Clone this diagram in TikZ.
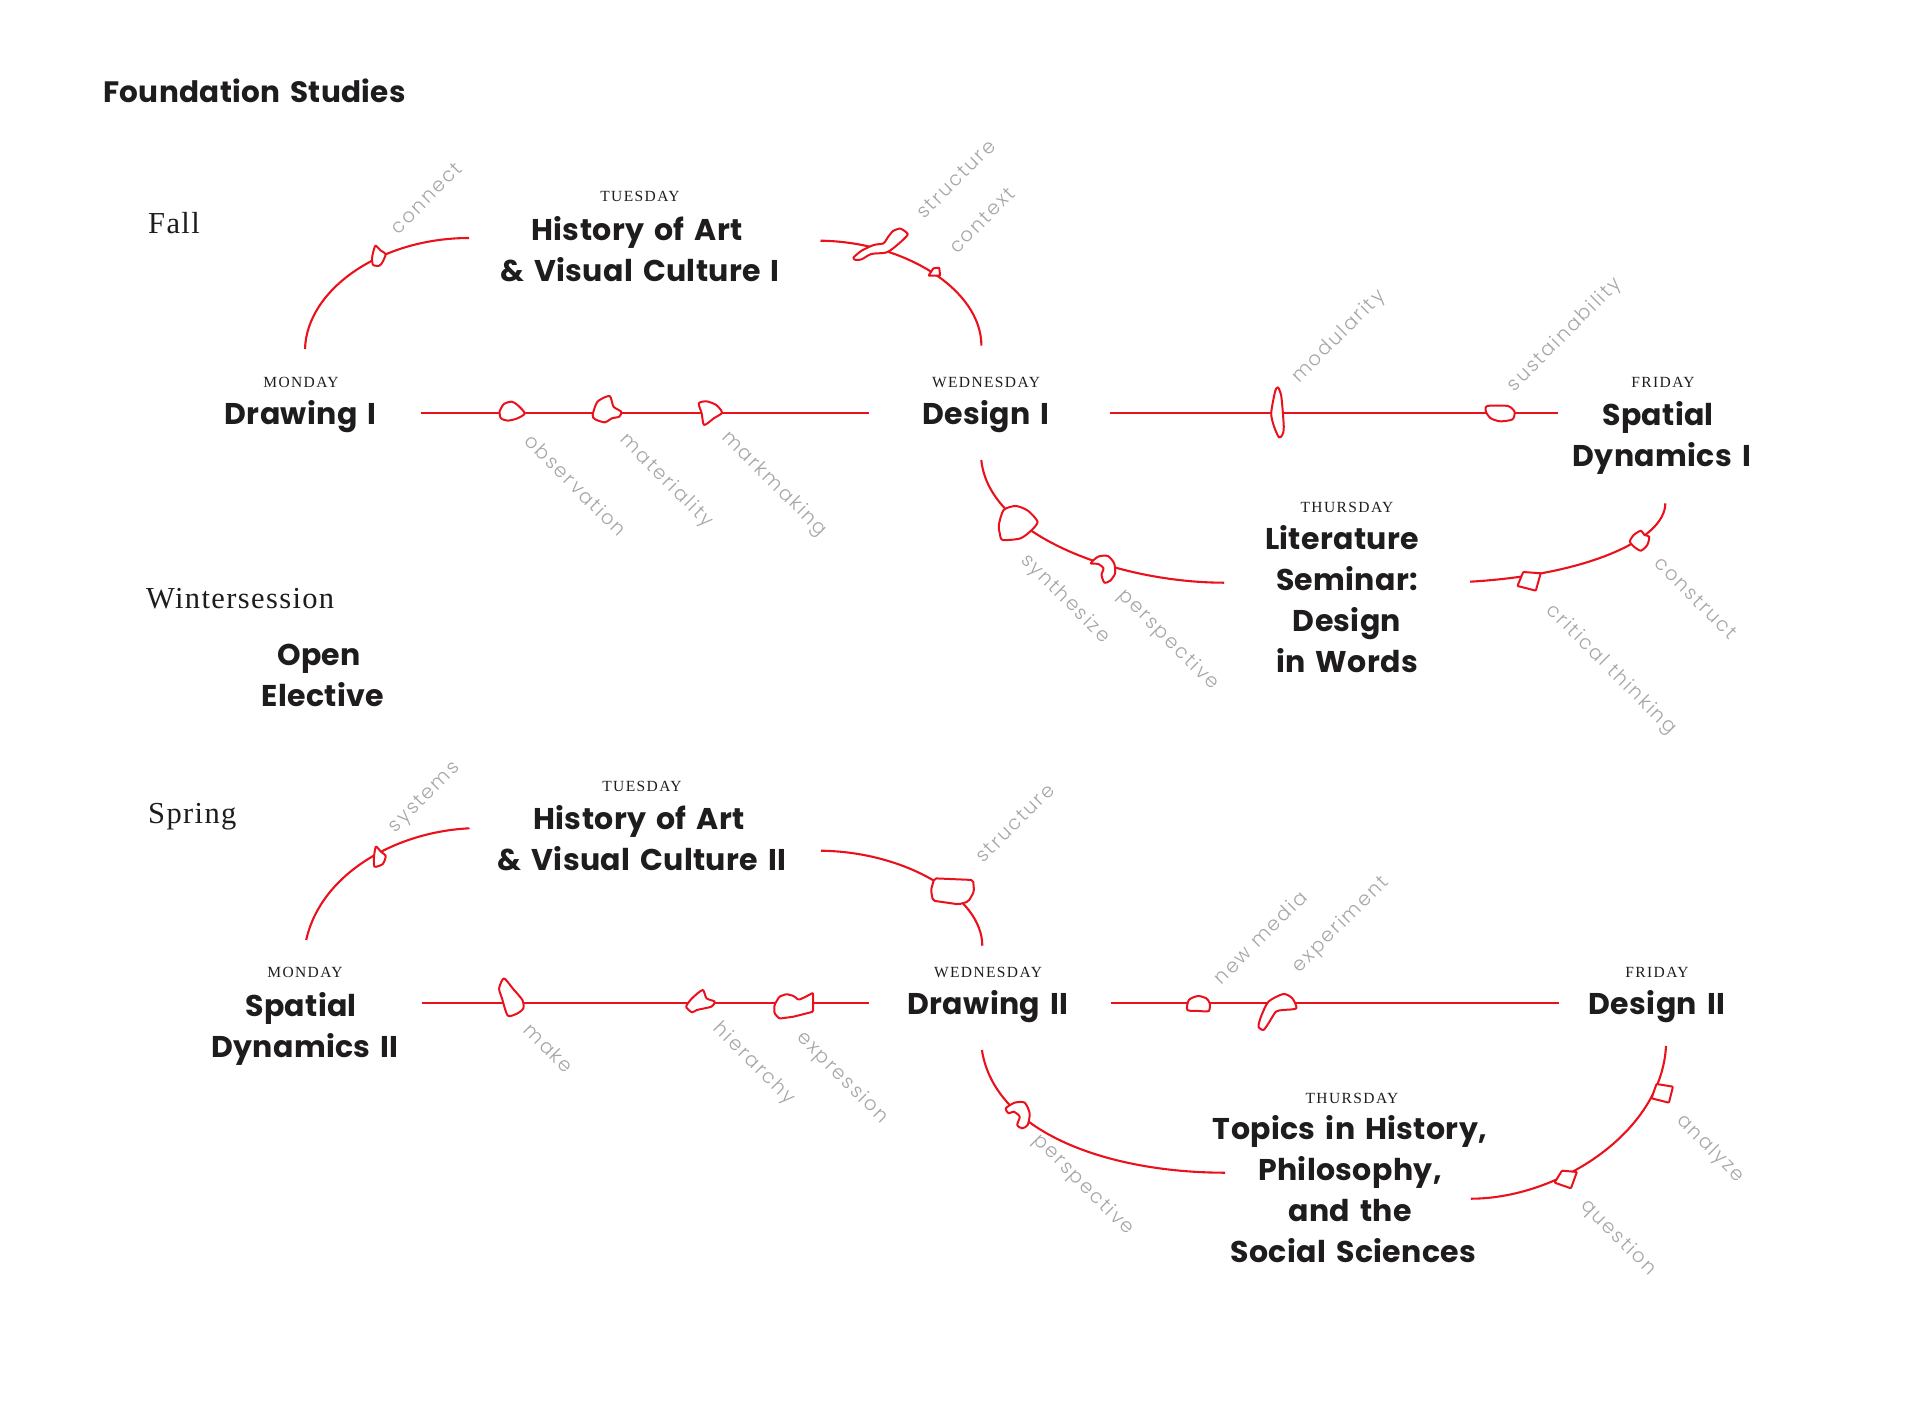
\documentclass[tikz,border=0pt]{standalone}
\usepackage{fontspec}
\setmainfont{Liberation Serif}
\newfontfamily\hd{Poppins}[LetterSpace=1.2,WordSpace=1.5]
\newfontfamily\tg{Poppins Light}[LetterSpace=10]
\newfontfamily\dy{Liberation Serif}[LetterSpace=9]
\newfontfamily\sn{Liberation Serif}[LetterSpace=4.5]
\definecolor{lk}{HTML}{EA111D}
\definecolor{ink}{HTML}{1E1C1D}
\definecolor{tgc}{HTML}{A6A6A6}
\tikzset{
 course/.style={inner sep=0pt,align=center,text=ink,font=\hd\bfseries\fontsize{30}{41}\selectfont},
 day/.style={inner sep=0pt,text=ink,font=\dy\fontsize{15.5}{16}\selectfont},
 season/.style={inner sep=0pt,anchor=base west,text=ink,font=\sn\fontsize{30.5}{34}\selectfont},
 tag/.style={inner sep=0pt,text=tgc,font=\tg\fontsize{19.5}{22}\selectfont},
 tagup/.style={tag,rotate=45},
 tagdn/.style={tag,rotate=-45},
 link/.style={draw=lk,line width=2.1pt,line cap=butt},
 rail/.style={draw=lk,line width=2.6pt,line cap=butt},
 blob/.style={draw=lk,fill=white,line width=2pt,line join=round},
 zoomA/.style={shift={(280,130)},xscale=0.4847,yscale=0.3333},
 zoomB/.style={shift={(960,270)},xscale=0.4847,yscale=0.3333},
 zoomC/.style={shift={(280,750)},xscale=0.4847,yscale=0.3333},
 zoomD/.style={shift={(960,860)},xscale=0.4975,yscale=0.3333},
}
\newcommand{\shp}[1]{\draw[blob] plot[smooth cycle,tension=0.42] coordinates {#1};}
\begin{document}
\begin{tikzpicture}[x=1pt,y=-1pt]
\useasboundingbox (0,0) rectangle (1920,1401);
% headings
\node[anchor=west,inner sep=0pt,text=ink,font=\hd\bfseries\fontsize{29.5}{32}\selectfont] (title) at (103,90.5) {Foundation Studies};
\node[season] (fall) at (148,233) {Fall};
\node[season] (winter) at (146,608) {Wintersession};
\node[season] (spring) at (148,823) {Spring};
\node[course] (open) at (323,675.5) {Open\hspace*{8pt}\\Elective};
% fall courses
\node[day] (dTue1) at (640,196) {TUESDAY};
\node[course] (hist1) at (640,249) {History of Art\hspace*{6pt}\\\& Visual Culture I};
\node[day] (dMon1) at (301,382) {MONDAY};
\node[course] (draw1) at (300.6,417) {Drawing I};
\node[day] (dWed1) at (986,382) {WEDNESDAY};
\node[course] (desn1) at (986,417) {Design I};
\node[day] (dFri1) at (1663,382) {FRIDAY};
\node[course] (spat1) at (1662,438) {Spatial\hspace*{8pt}\\Dynamics I};
\node[day] (dThu1) at (1347,507) {THURSDAY};
\node[course] (lit) at (1347,599.5) {Literature\hspace*{10pt}\\Seminar:\\Design\hspace*{10pt}\\in Words};
% spring courses
\node[day] (dTue2) at (642,786) {TUESDAY};
\node[course] (hist2) at (642,838.5) {History of Art\hspace*{6pt}\\\& Visual Culture II};
\node[day] (dMon2) at (305,972) {MONDAY};
\node[course] (spat2) at (305,1028.5) {Spatial\hspace*{8pt}\\Dynamics II};
\node[day] (dWed2) at (988,972) {WEDNESDAY};
\node[course] (draw2) at (988,1007) {Drawing II};
\node[day] (dFri2) at (1657,972) {FRIDAY};
\node[course] (desn2) at (1657,1007) {Design II};
\node[day] (dThu2) at (1352,1098) {THURSDAY};
\node[course] (topics) at (1350,1189.5) {Topics in History,\\Philosophy,\\and the\\\hspace*{7pt}Social Sciences};
% connector ends
\coordinate (a1) at (305,349); \coordinate (a2) at (469,238);
\coordinate (b1) at (820.5,240.7); \coordinate (b2) at (981.4,345.7);
\coordinate (c1) at (420.6,413); \coordinate (c2) at (869,413);
\coordinate (d1) at (1110,413); \coordinate (d2) at (1558,413);
\coordinate (e1) at (981.3,460); \coordinate (e2) at (1224.2,582.7);
\coordinate (f1) at (1470,581.7); \coordinate (f2) at (1665.3,503.3);
\coordinate (g1) at (306.2,940); \coordinate (g2) at (469.5,828.3);
\coordinate (h1) at (821,850.7); \coordinate (h2) at (982.3,945.7);
\coordinate (i1) at (421.5,1003); \coordinate (i2) at (869.4,1003);
\coordinate (j1) at (1110.7,1003); \coordinate (j2) at (1559,1003);
\coordinate (k1) at (981.9,1050); \coordinate (k2) at (1225.2,1172.7);
\coordinate (l1) at (1666,1046); \coordinate (l2) at (1470.9,1198.7);
% connectors
\draw[link] (a1) .. controls (306.7,290) and (379.9,238) .. (a2);
\draw[link] (b1) .. controls (905,241.7) and (981.4,290) .. (b2);
\draw[rail] (c1) -- (c2);
\draw[rail] (d1) -- (d2);
\draw[link] (e1) .. controls (989,536.7) and (1120,582.7) .. (e2);
\draw[link] (f1) .. controls (1585.3,575) and (1665.3,540) .. (f2);
\draw[link] (g1) .. controls (321,873.3) and (396.3,831.7) .. (g2);
\draw[link] (h1) .. controls (905,851.7) and (982.3,896.7) .. (h2);
\draw[rail] (i1) -- (i2);
\draw[rail] (j1) -- (j2);
\draw[link] (k1) .. controls (994.8,1133.3) and (1109.3,1172.7) .. (k2);
\draw[link] (l1) .. controls (1661.5,1133.3) and (1557,1198.7) .. (l2);
% marks
\begin{scope}[zoomA]
\shp{(197,347)(208,362)(218,372)(212,395)(205,407)(192,405)(190,385)(192,368)}
\shp{(1183,383)(1200,362)(1225,345)(1245,340)(1255,320)(1265,303)(1280,296)(1295,312)(1285,330)(1265,355)(1250,368)(1220,372)(1200,388)(1188,390)}
\draw[blob,rounded corners=0.6pt] (1338,437) -- (1348,415) -- (1360,413) -- (1362,437) -- cycle;
\shp{(453,845)(462,822)(478,815)(490,825)(505,850)(490,865)(470,872)(456,865)}
\shp{(645,855)(655,815)(680,798)(688,830)(704,845)(700,860)(685,865)(670,877)(650,868)}
\shp{(864,820)(880,814)(900,825)(912,848)(895,865)(875,885)(870,850)}
\end{scope}
\begin{scope}[zoomB]
\shp{(80,765)(90,720)(115,708)(140,722)(160,755)(148,780)(125,805)(88,810)(82,790)}
\shp{(270,880)(285,860)(305,858)(318,880)(320,910)(310,932)(298,938)(292,915)(296,895)(285,882)}
\shp{(1382,815)(1390,795)(1405,782)(1412,795)(1422,800)(1418,825)(1405,842)(1392,832)}
\draw[blob,rounded corners=0.8pt] (1150,948) -- (1162,906) -- (1198,910) -- (1188,962) -- cycle;
\shp{(642,430)(650,365)(656,352)(663,380)(668,470)(665,495)(658,502)(648,470)}
\shp{(1085,425)(1088,408)(1130,408)(1144,425)(1140,448)(1115,454)(1095,445)}
\end{scope}
\begin{scope}[zoomC]
\shp{(198,290)(208,305)(218,318)(212,342)(195,350)(194,320)}
\draw[blob,rounded corners=2pt] (1350,385) -- (1430,390) -- (1432,425) -- (1420,455) -- (1400,463) -- (1347,452) -- (1343,420) -- cycle;
\shp{(462,685)(480,715)(500,750)(502,775)(490,790)(470,797)(458,745)(452,715)}
\shp{(872,720)(880,745)(897,755)(890,770)(860,780)(850,787)(838,770)(850,745)}
\draw[blob,rounded corners=1.2pt] (1100,728) -- (1100,785) -- (1060,800) -- (1030,806) -- (1020,790) -- (1020,765) -- (1030,740) -- (1045,732) -- (1060,738) -- (1070,750) -- (1085,740) -- cycle;
\end{scope}
\begin{scope}[zoomD]
\shp{(457,450)(460,420)(478,408)(495,415)(502,430)(500,453)(480,453)}
\shp{(600,500)(605,470)(620,425)(650,402)(668,415)(676,445)(650,450)(635,455)(620,490)(610,510)}
\shp{(92,745)(110,728)(130,728)(140,760)(136,795)(125,805)(115,795)(120,770)(108,755)(98,760)}
\draw[blob,rounded corners=0.8pt] (1400,672) -- (1433,680) -- (1425,728) -- (1390,715) -- cycle;
\draw[blob,rounded corners=0.8pt] (1195,968) -- (1210,932) -- (1240,936) -- (1228,985) -- cycle;
\end{scope}
% tags
\node[tagup] (t1) at (426,198) {connect};
\node[tagup] (t2) at (956,179) {structure};
\node[tagup] (t3) at (982,220) {context};
\node[tagup] (t4) at (1339,337) {modularity};
\node[tagup] (t5) at (1565,335) {sustainability};
\node[tagdn] (t6) at (576,485) {observation};
\node[tagdn] (t7) at (666,481) {materiality};
\node[tagdn] (t8) at (774,484) {markmaking};
\node[tagdn] (t9) at (1065,599) {synthesize};
\node[tagdn] (t10) at (1168,640) {perspective};
\node[tagdn] (t11) at (1696,598) {construct};
\node[tagdn] (t12) at (1611,670) {critical thinking};
\node[tagup] (t13) at (425,798) {systems};
\node[tagup] (t14) at (1015,823) {structure};
\node[tagup] (t15) at (1260,937) {new media};
\node[tagup] (t16) at (1341,925) {experiment};
\node[tagdn] (t17) at (549,1048) {make};
\node[tagdn] (t18) at (754,1064) {hierarchy};
\node[tagdn] (t19) at (842,1078) {expression};
\node[tagdn] (t20) at (1083,1185) {perspective};
\node[tagdn] (t21) at (1710,1149) {analyze};
\node[tagdn] (t22) at (1618,1238) {question};
\end{tikzpicture}
\end{document}
